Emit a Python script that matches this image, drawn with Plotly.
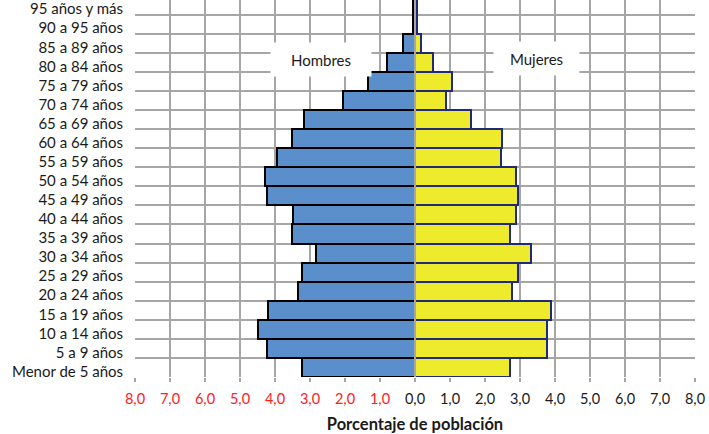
import plotly.graph_objects as go

categorias = ["Menor de 5 años", "5 a 9 años", "10 a 14 años", "15 a 19 años", "20 a 24 años",
              "25 a 29 años", "30 a 34 años", "35 a 39 años", "40 a 44 años", "45 a 49 años",
              "50 a 54 años", "55 a 59 años", "60 a 64 años", "65 a 69 años", "70 a 74 años",
              "75 a 79 años", "80 a 84 años", "85 a 89 años", "90 a 95 años", "95 años y más"]
hombres = [3.24, 4.24, 4.48, 4.19, 3.35, 3.24, 2.83, 3.52, 3.48, 4.24,
           4.29, 3.93, 3.52, 3.17, 2.05, 1.33, 0.81, 0.33, 0.05, 0.05]
mujeres = [2.71, 3.76, 3.76, 3.89, 2.77, 2.93, 3.30, 2.71, 2.89, 2.93,
           2.89, 2.46, 2.48, 1.59, 0.88, 1.05, 0.52, 0.16, 0.05, 0.05]
tick_vals = [-8, -7, -6, -5, -4, -3, -2, -1, 0, 1, 2, 3, 4, 5, 6, 7, 8]
tick_text = ["8,0", "7,0", "6,0", "5,0", "4,0", "3,0", "2,0", "1,0", "0,0",
             "1,0", "2,0", "3,0", "4,0", "5,0", "6,0", "7,0", "8,0"]

FONT = "Lato"
grid = "#a6a6a6"

labels = [f'<span style="color:#ff2020">{t}</span>' if v < 0 else t
          for v, t in zip(tick_vals, tick_text)]

fig = go.Figure()
fig.add_trace(go.Bar(y=categorias, x=[-v for v in hombres], orientation="h",
                     marker=dict(color="#5b8fcc", line=dict(color="#000000", width=2)),
                     name="Hombres"))
fig.add_trace(go.Bar(y=categorias, x=mujeres, orientation="h",
                     marker=dict(color="#eeea2c", line=dict(color="#1f2a78", width=2)),
                     name="Mujeres"))

fig.update_layout(
    width=709, height=434, barmode="overlay", bargap=0,
    showlegend=False,
    paper_bgcolor="white", plot_bgcolor="white",
    margin=dict(l=135, r=14, t=0, b=57, autoexpand=False),
    font=dict(family=FONT, size=13, color="#1a1a1a"),
    xaxis=dict(range=[-8, 8], tickvals=tick_vals, ticktext=labels, automargin=False,
               showgrid=True, gridcolor=grid, gridwidth=2, zeroline=False,
               ticks="outside", ticklen=4, tickcolor=grid, tickwidth=2,
               showline=False, ticklabelstandoff=5,
               tickfont=dict(family=FONT, size=14.5, color="#1a1a1a"),
               title=dict(text="<b>Porcentaje de población</b>",
                          font=dict(family=FONT, size=16.5, color="#1a1a1a"), standoff=14)),
    yaxis=dict(type="category", categoryorder="array", categoryarray=categorias,
               range=[-0.5, 19.27], tickson="boundaries", showgrid=True, automargin=False,
               gridcolor=grid, gridwidth=2, ticks="", showline=False,
               tickfont=dict(family=FONT, size=15, color="#1a1a1a"),
               ticklabelstandoff=11, ticklabelshift=4),
    annotations=[
        dict(x=-2.69, y=16.27, xref="x", yref="y", text="Hombres", showarrow=False,
             bgcolor="white", width=98, height=31, yshift=-2,
             font=dict(family=FONT, size=15, color="#1a1a1a")),
        dict(x=3.47, y=16.27, xref="x", yref="y", text="Mujeres", showarrow=False,
             bgcolor="white", width=83, height=31, yshift=-1,
             font=dict(family=FONT, size=15, color="#1a1a1a")),
    ],
)
fig.add_vline(x=0, line=dict(color=grid, width=2), layer="above")

fig.write_html("out.html", config={"displayModeBar": False},
               post_script="document.body.style.margin='0';document.body.style.overflow='hidden';")
